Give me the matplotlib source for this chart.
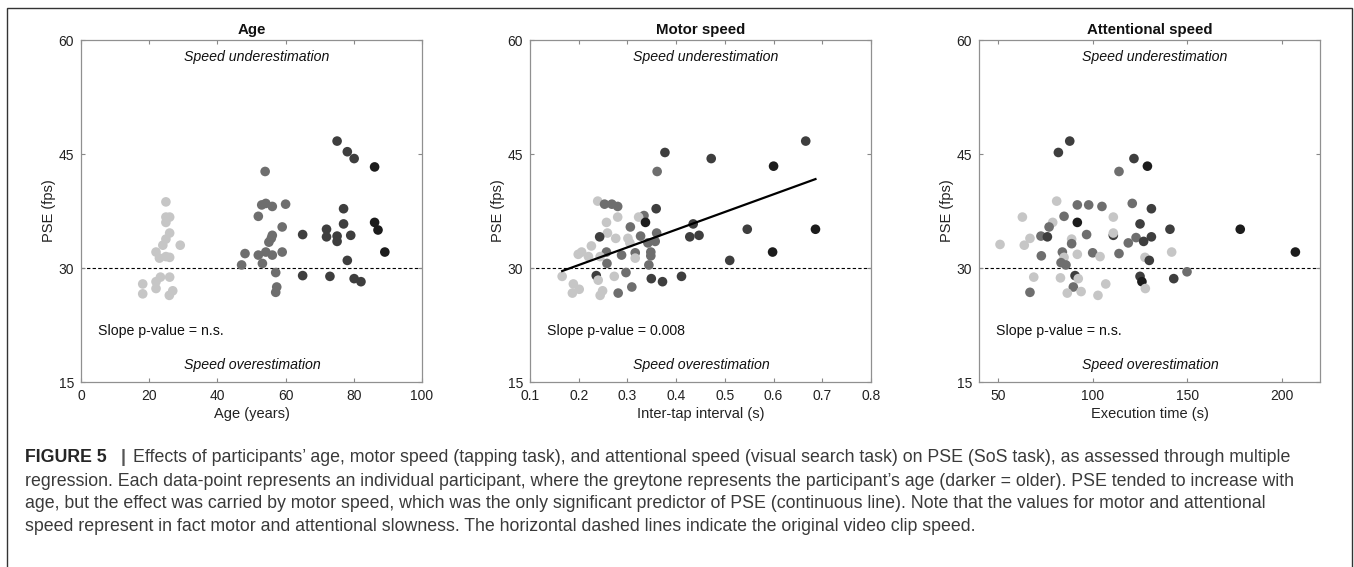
import matplotlib
matplotlib.use("Agg")
import matplotlib.pyplot as plt
from matplotlib.patches import Rectangle

plt.rcParams['font.family'] = ['Liberation Sans', 'DejaVu Sans']

# greytone per age group (young, middle, old, oldest)
tone_colors = ['#c6c6c6', '#6e6e6e', '#3e3e3e', '#1c1c1c']

# panel 1: age vs PSE
age = [24.9, 24.9, 26.0, 24.9, 26.0, 24.9, 24.0, 29.1, 22.0, 23.0, 24.9, 26.0, 23.3, 26.0, 22.0, 18.1, 18.1, 22.0, 25.9, 26.9,
       54.0, 53.0, 54.2, 56.1, 60.0, 52.0, 59.0, 56.1, 55.8, 55.1, 48.1, 52.0, 54.2, 56.1, 59.0, 47.1, 53.2, 57.1, 57.4, 57.1,
       75.1, 78.1, 80.1, 77.0, 77.0, 72.0, 72.0, 75.1, 75.1, 65.0, 79.1, 78.1, 65.0, 73.0, 80.1, 82.1,
       86.1, 86.1, 87.1, 89.1]
age_pse = [38.7, 36.7, 36.7, 36.0, 34.6, 33.8, 33.0, 33.0, 32.1, 31.3, 31.5, 31.4, 28.8, 28.8, 28.2, 27.9, 26.6, 27.3, 26.4, 27.0,
           42.7, 38.3, 38.5, 38.1, 38.4, 36.8, 35.4, 34.3, 33.9, 33.4, 31.9, 31.7, 32.1, 31.7, 32.1, 30.4, 30.6, 29.4, 27.5, 26.8,
           46.7, 45.3, 44.4, 37.8, 35.8, 35.1, 34.1, 34.2, 33.5, 34.4, 34.3, 31.0, 29.0, 28.9, 28.6, 28.2,
           43.3, 36.0, 35.0, 32.1]
age_tone = [0] * 20 + [1] * 20 + [2] * 16 + [3] * 4

# panel 2: inter-tap interval vs PSE
iti = [0.377, 0.472, 0.666, 0.600, 0.361, 0.239, 0.253, 0.268, 0.280, 0.359,
       0.334, 0.323, 0.337, 0.257, 0.280, 0.306, 0.435, 0.546, 0.686, 0.259,
       0.243, 0.276, 0.327, 0.301, 0.428, 0.447, 0.360, 0.357, 0.342, 0.305,
       0.226, 0.206, 0.199, 0.220, 0.257, 0.288, 0.316, 0.348, 0.348, 0.244,
       0.316, 0.258, 0.344, 0.510, 0.598, 0.166, 0.236, 0.273, 0.297, 0.349,
       0.372, 0.411, 0.240, 0.189, 0.201, 0.187, 0.249, 0.244, 0.281, 0.309]
iti_pse = [45.2, 44.4, 46.7, 43.4, 42.7, 38.8, 38.4, 38.4, 38.1, 37.8,
           36.9, 36.7, 36.0, 36.0, 36.7, 35.4, 35.8, 35.1, 35.1, 34.6,
           34.1, 33.9, 34.2, 33.9, 34.1, 34.3, 34.6, 33.5, 33.3, 33.3,
           32.9, 32.1, 31.8, 31.5, 32.1, 31.7, 32.0, 32.1, 31.6, 31.5,
           31.3, 30.6, 30.4, 31.0, 32.1, 28.9, 29.0, 28.9, 29.4, 28.6,
           28.2, 28.9, 28.4, 27.9, 27.2, 26.7, 27.0, 26.4, 26.7, 27.5]
iti_tone = [2, 2, 2, 3, 1, 0, 1, 1, 1, 2,
            1, 0, 3, 0, 0, 1, 2, 2, 3, 0,
            2, 0, 1, 0, 2, 2, 1, 1, 1, 0,
            0, 0, 0, 0, 1, 1, 1, 1, 1, 0,
            0, 1, 1, 2, 3, 0, 2, 0, 1, 2,
            2, 2, 0, 0, 0, 0, 0, 0, 1, 1]
fit_x = [0.166, 0.686]
fit_y = [29.6, 41.7]

# panel 3: visual search execution time vs PSE
exec_time = [87.9, 81.9, 121.8, 128.9, 113.9, 81.0, 91.9, 97.9, 104.9, 120.9,
             131.0, 62.9, 84.9, 91.9, 110.9, 125.0, 78.9, 77.0, 140.8, 177.9,
             207.0, 72.7, 76.1, 66.9, 88.9, 96.8, 110.9, 110.9, 122.9, 131.0,
             126.9, 118.8, 51.1, 63.9, 88.9, 84.0, 72.9, 91.9, 100.0, 103.9,
             113.9, 84.9, 127.6, 129.9, 141.7, 83.3, 85.9, 149.8, 68.9, 83.0,
             90.7, 92.4, 125.0, 126.0, 142.8, 89.8, 106.9, 127.8, 66.9, 86.6,
             93.9, 102.8]
exec_pse = [46.7, 45.2, 44.4, 43.4, 42.7, 38.8, 38.3, 38.3, 38.1, 38.5,
            37.8, 36.7, 36.8, 36.0, 36.7, 35.8, 36.0, 35.4, 35.1, 35.1,
            32.1, 34.2, 34.1, 33.9, 33.8, 34.4, 34.3, 34.6, 34.0, 34.1,
            33.5, 33.3, 33.1, 33.0, 33.2, 32.1, 31.6, 31.8, 32.0, 31.5,
            31.9, 31.4, 31.4, 31.0, 32.1, 30.7, 30.4, 29.5, 28.8, 28.7,
            29.0, 28.6, 28.9, 28.2, 28.6, 27.5, 27.9, 27.3, 26.8, 26.7,
            26.9, 26.4]
exec_tone = [2, 2, 2, 3, 1, 0, 1, 1, 1, 1,
             2, 0, 1, 3, 0, 2, 0, 1, 2, 3,
             3, 1, 2, 0, 0, 1, 2, 0, 1, 2,
             2, 1, 0, 0, 1, 1, 1, 0, 1, 0,
             1, 0, 0, 2, 0, 1, 1, 1, 0, 0,
             2, 0, 2, 3, 2, 1, 0, 0, 1, 0,
             0, 0]

titles = ['Age', 'Motor speed', 'Attentional speed']
xlabels = ['Age (years)', 'Inter-tap interval (s)', 'Execution time (s)']
pvalues = ['n.s.', '0.008', 'n.s.']
xlims = [(0, 100), (0.1, 0.8), (40, 220)]
xticks = [[0, 20, 40, 60, 80, 100],
          [0.1, 0.2, 0.3, 0.4, 0.5, 0.6, 0.7, 0.8],
          [50, 100, 150, 200]]
yticks = [15, 30, 45, 60]

W, H = 1354, 567
fig = plt.figure(figsize=(W / 100, H / 100), dpi=100)

# outer frame of the figure box
fig.patches.append(Rectangle((7 / W, -0.05), 1345 / W, 1.05 - 8 / H, transform=fig.transFigure,
                             fill=False, edgecolor='#333333', linewidth=1.0))

panels = [(age, age_pse, age_tone), (iti, iti_pse, iti_tone), (exec_time, exec_pse, exec_tone)]
lefts = [81, 530, 979]

for i, (xs, ys, tones) in enumerate(panels):
    ax = fig.add_axes([lefts[i] / W, (H - 382) / H, 341 / W, 342 / H])
    ax.axhline(30, color='black', linestyle=(0, (3, 2)), linewidth=0.8, zorder=1)
    ax.scatter(xs, ys, s=48, c=[tone_colors[t] for t in tones], linewidths=0, zorder=3)
    if i == 1:
        ax.plot(fit_x, fit_y, color='black', linewidth=1.6, zorder=4)
    ax.set_xlim(xlims[i])
    ax.set_ylim(15, 60)
    ax.set_xticks(xticks[i])
    ax.set_yticks(yticks)
    if i == 1:
        ax.set_xticklabels(['%.1f' % v for v in xticks[i]])
    ax.tick_params(direction='in', top=True, right=True, length=3, width=0.8,
                   color='#888888', labelsize=10, labelcolor='#222222', pad=5)
    for sp in ax.spines.values():
        sp.set_color('#909090')
        sp.set_linewidth(0.9)
    ax.set_title(titles[i], fontsize=10.8, fontweight='bold', pad=4, color='#111111')
    ax.set_xlabel(xlabels[i], fontsize=10.5, labelpad=3, color='#222222')
    ax.set_ylabel('PSE (fps)', fontsize=10.5, labelpad=2, color='#222222')
    ax.text(0.302, 0.95, 'Speed underestimation', transform=ax.transAxes, style='italic',
            fontsize=10.2, ha='left', va='center', color='#111111')
    ax.text(0.302, 0.05, 'Speed overestimation', transform=ax.transAxes, style='italic',
            fontsize=10.2, ha='left', va='center', color='#111111')
    ax.text(0.051, 0.149, 'Slope p-value = ' + pvalues[i], transform=ax.transAxes,
            fontsize=10.2, ha='left', va='center', color='#111111')

# caption
cap_color = '#3a3a3a'
cap_size = 12.8
lines = [
    'Effects of participants\u2019 age, motor speed (tapping task), and attentional speed (visual search task) on PSE (SoS task), as assessed through multiple',
    'regression. Each data-point represents an individual participant, where the greytone represents the participant\u2019s age (darker = older). PSE tended to increase with',
    'age, but the effect was carried by motor speed, which was the only significant predictor of PSE (continuous line). Note that the values for motor and attentional',
    'speed represent in fact motor and attentional slowness. The horizontal dashed lines indicate the original video clip speed.',
]
baselines = [462.5, 485.5, 508.5, 531]
fig.text(25 / W, 1 - baselines[0] / H, 'FIGURE 5', fontsize=cap_size, fontweight='bold',
         color='#262626', va='baseline')
fig.text(123 / W, 1 - baselines[0] / H, '|', fontsize=cap_size, fontweight='bold',
         color='#555555', va='baseline', ha='center')
fig.text(133 / W, 1 - baselines[0] / H, lines[0], fontsize=cap_size, color=cap_color, va='baseline')
for k in range(1, 4):
    fig.text(25 / W, 1 - baselines[k] / H, lines[k], fontsize=cap_size, color=cap_color, va='baseline')

fig.savefig('out.png', dpi=100)
